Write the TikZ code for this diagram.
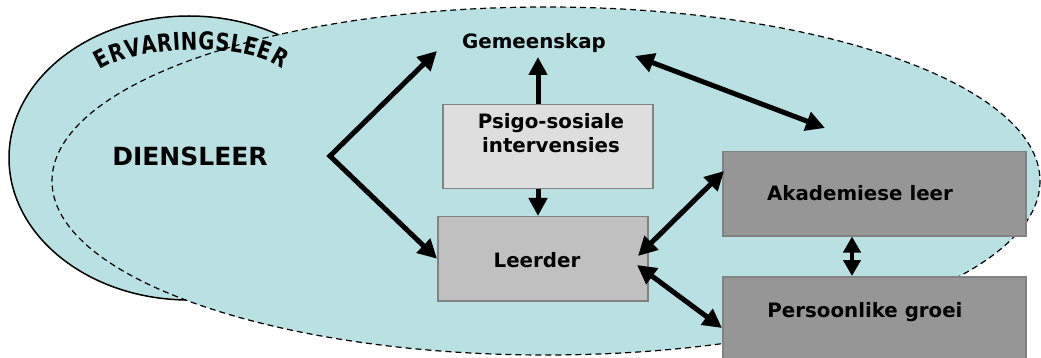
\documentclass[tikz,border=0pt]{standalone}
\usepackage{fontspec}
\setmainfont{DejaVu Sans}
\newfontfamily\ervfam{DejaVu Sans}[FakeStretch=0.8]
\usetikzlibrary{arrows.meta,decorations.text}
\definecolor{sea}{RGB}{185,224,227}
\definecolor{boxline}{RGB}{130,130,130}
\definecolor{lightbox}{RGB}{222,222,222}
\definecolor{midbox}{RGB}{192,192,192}
\definecolor{darkbox}{RGB}{150,150,150}
\newcommand\ervfont{\ervfam\bfseries\fontsize{24.5}{24.5}\selectfont}
\begin{document}
\begin{tikzpicture}[x=1pt,y=-1pt,
  lbl/.style={font=\bfseries\fontsize{19.8}{24}\selectfont, text=black, align=center, inner sep=0pt},
  biglbl/.style={font=\bfseries\fontsize{25}{28}\selectfont, text=black, inner sep=0pt},
  boxnode/.style={draw=boxline, line width=1.5pt, inner sep=0pt, anchor=north west},
  dblarrow/.style={line width=5pt, {Triangle[length=19pt,width=19pt]}-{Triangle[length=19pt,width=19pt]}},
  onearrow/.style={line width=5pt, -{Triangle[length=18pt,width=18pt]}},
  shortdbl/.style={line width=4.5pt, {Triangle[length=16pt,width=17pt]}-{Triangle[length=16pt,width=17pt]}}]
\useasboundingbox (0,0) rectangle (1041,358);
\clip (0,0) rectangle (1041,358);
% ellipses
\draw[line width=1.5pt, fill=sea] (189,158) ellipse [x radius=180, y radius=142];
\draw[line width=1.2pt, dash pattern=on 6pt off 4pt, fill=sea] (546,181) ellipse [x radius=494, y radius=174];
% curved title
\path[decorate, decoration={text along path, text={|\ervfont|ERVARINGSLEER}, text align=fit to path}]
  (100,70) .. controls (133,47) and (243,40) .. (282,69);
% boxes
\node[boxnode, fill=lightbox, minimum width=210pt, minimum height=84pt] (psy) at (442,104) {};
\node[boxnode, fill=midbox, minimum width=210pt, minimum height=84pt] (leer) at (437,216) {};
\node[boxnode, fill=darkbox, minimum width=303pt, minimum height=84pt] (aka) at (722,151) {};
\node[boxnode, fill=darkbox, minimum width=303pt, minimum height=110pt] (pers) at (722,276) {};
% labels
\node[biglbl] (dien) at (190,156) {DIENSLEER};
\node[lbl] (gem) at (534,43) {Gemeenskap};
\node[lbl] (psyT) at (551,133) {Psigo-sosiale\\intervensies};
\node[lbl] (leerT) at (537,260) {Leerder};
\node[lbl] (akaT) at (860,193) {Akademiese leer};
\node[lbl] (persT) at (865,312) {Persoonlike groei};
% connector end points
\coordinate (fork) at (330,156);
\coordinate (gemL) at (437,51);
\coordinate (gemB) at (538,57);
\coordinate (gemR) at (635,56);
\coordinate (akaTop) at (825,128);
\coordinate (leerA) at (638,256);
\coordinate (akaL) at (724,171);
\coordinate (leerP) at (637,265);
\coordinate (persL) at (722,328);
\coordinate (mid) at (852,200);
% connectors
\draw[dblarrow, line join=miter] (gemL) -- (fork) -- (leer.west);
\draw[onearrow] (gemB |- psy.north) -- (gemB);
\draw[onearrow] (gemB |- psy.south) -- (gemB |- leer.north);
\draw[dblarrow] (gemR) -- (akaTop);
\draw[dblarrow] (leerA) -- (akaL);
\draw[dblarrow] (leerP) -- (persL);
\draw[shortdbl] (mid |- aka.south) -- (mid |- pers.north);
\end{tikzpicture}
\end{document}
